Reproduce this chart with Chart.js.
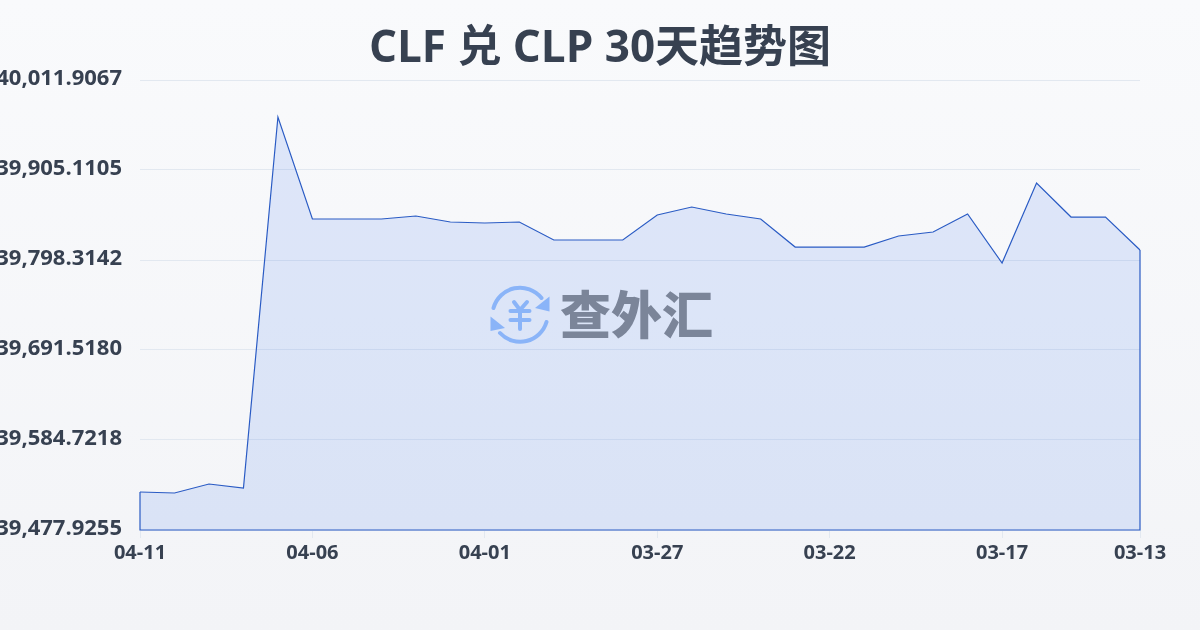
<!DOCTYPE html>
<html lang="zh">
<head>
<meta charset="utf-8">
<title>CLF 兑 CLP 30天趋势图</title>
<script src="https://cdn.jsdelivr.net/npm/chart.js@4/dist/chart.umd.min.js"></script>
<style>
  html, body { margin: 0; padding: 0; }
  body { width: 1200px; height: 630px; overflow: hidden; position: relative;
    background: linear-gradient(180deg, #f9fafc 0%, #f3f4f7 100%); }
  #chart { position: absolute; left: 0; top: 0; }
  #logo { position: absolute; left: 0; top: 0; pointer-events: none; }
  #title { position: absolute; left: 0; top: 14px; width: 1200px; text-align: center; white-space: nowrap;
    font: 700 44px/62px "Open Sans", "Noto Sans CJK SC", sans-serif; color: #374151; }
  #brand { position: absolute; left: 560px; top: 276px; width: 160px; pointer-events: none;
    font: 900 51px/72px "Noto Sans CJK SC", sans-serif; color: #7b8599; white-space: nowrap; }
</style>
</head>
<body>
<canvas id="chart" width="1200" height="630"></canvas>
<svg id="logo" width="1200" height="630" viewBox="0 0 1200 630">
  <g fill="none" stroke="#8ab4f8" stroke-width="4" stroke-linecap="round" stroke-linejoin="round">
    <path d="M493.5 308 A27.5 27.5 0 0 1 541.5 298"/>
    <path d="M546.5 322 A27.5 27.5 0 0 1 500 333"/>
    <path d="M514 302 L520 310 L527 302 M510.5 311 H529.5 M510.5 320 H529.5 M520 310 V329"/>
  </g>
  <g fill="#8ab4f8">
    <path d="M549.5 296.5 V311.5 L535 308 Z"/>
    <path d="M490.5 316.5 V331 L505 328 Z"/>
  </g>
</svg>
<div id="title">CLF 兑 CLP 30天趋势图</div>
<div id="brand">查外汇</div>
<script>
const dates = ['04-11','04-10','04-09','04-08','04-07','04-06','04-05','04-04','04-03','04-02',
  '04-01','03-31','03-30','03-29','03-28','03-27','03-26','03-25','03-24','03-23',
  '03-22','03-21','03-20','03-19','03-18','03-17','03-16','03-15','03-14','03-13'];
const rates = [39523.02,39521.83,39532.51,39527.76,39968.00,39846.97,39846.97,39846.97,39850.50,39843.40,
  39842.20,39843.40,39822.05,39822.05,39822.05,39851.70,39861.20,39852.90,39846.97,39813.70,
  39813.70,39813.70,39826.80,39831.50,39852.90,39794.70,39889.70,39849.30,39849.30,39810.20];
const yTicks = [39477.9255,39584.7218,39691.5180,39798.3142,39905.1105,40011.9067];
const xTicks = ['04-11','04-06','04-01','03-27','03-22','03-17','03-13'];

const lineColor = '#2a5bc4';
const fontFamily = '"Open Sans", "Noto Sans CJK SC", sans-serif';

// closes the outline of the area: both sides and the bottom
const areaOutline = {
  id: 'areaOutline',
  afterDatasetsDraw(chart) {
    const { ctx, scales: { x, y } } = chart;
    const first = x.getPixelForValue(0), last = x.getPixelForValue(rates.length - 1);
    ctx.save();
    ctx.strokeStyle = lineColor;
    ctx.lineWidth = 1.2;
    ctx.beginPath();
    ctx.moveTo(first, y.getPixelForValue(rates[0]));
    ctx.lineTo(first, y.bottom);
    ctx.lineTo(last, y.bottom);
    ctx.lineTo(last, y.getPixelForValue(rates[rates.length - 1]));
    ctx.stroke();
    ctx.restore();
  }
};

new Chart(document.getElementById('chart'), {
  type: 'line',
  data: {
    labels: dates,
    datasets: [{
      data: rates,
      borderColor: lineColor,
      borderWidth: 1.2,
      backgroundColor: 'rgba(37,99,235,0.12)',
      fill: 'start',
      pointRadius: 0,
      tension: 0
    }]
  },
  options: {
    responsive: false,
    animation: false,
    layout: { padding: { top: 80, right: 60, bottom: 0, left: 0 } },
    plugins: {
      legend: { display: false },
      tooltip: { enabled: false }
    },
    scales: {
      x: {
        offset: false,
        border: { display: false },
        grid: { drawOnChartArea: false, drawTicks: true, tickLength: 8, color: '#e2e8f0' },
        afterBuildTicks(axis) {
          axis.ticks = axis.ticks.filter(t => xTicks.includes(dates[t.value]));
        },
        afterFit(axis) { axis.height = 100; },
        ticks: {
          autoSkip: false, maxRotation: 0, color: '#374151', padding: 3,
          font: { family: fontFamily, size: 20, weight: '700' }
        }
      },
      y: {
        min: yTicks[0],
        max: yTicks[yTicks.length - 1],
        border: { display: false },
        grid: { drawTicks: false, color: '#e2e8f0' },
        afterBuildTicks(axis) { axis.ticks = yTicks.map(v => ({ value: v })); },
        afterFit(axis) { axis.width = 140; },
        ticks: {
          color: '#374151',
          padding: 18,
          font: { family: fontFamily, size: 22, weight: '700', lineHeight: 0.1 },
          // the empty second line lifts the label a little above its grid line
          callback: v => [v.toLocaleString('en-US', { minimumFractionDigits: 4, maximumFractionDigits: 4 }), '']
        }
      }
    }
  },
  plugins: [areaOutline]
});
</script>
</body>
</html>
